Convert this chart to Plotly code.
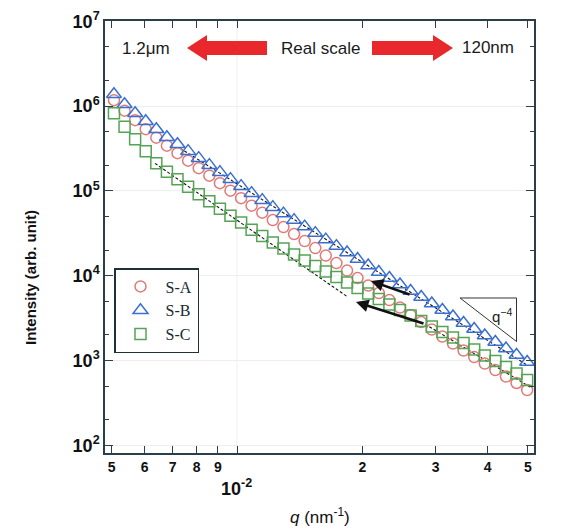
import plotly.graph_objects as go

# ---------------- data ----------------
q = [0.005063, 0.005369, 0.005692, 0.006036, 0.006400, 0.006786, 0.007195, 0.007630,
     0.008091, 0.008580, 0.009097, 0.009645, 0.01023, 0.01084, 0.01150, 0.01219,
     0.01293, 0.01371, 0.01454, 0.01542, 0.01634, 0.01733, 0.01838, 0.01948,
     0.02066, 0.02191, 0.02323, 0.02463, 0.02612, 0.02770, 0.02937, 0.03114,
     0.03302, 0.03501, 0.03713, 0.03937, 0.04174, 0.04427, 0.04693, 0.04977]

s_a = [1.173e6, 8.816e5, 6.813e5, 5.337e5, 4.238e5, 3.411e5, 2.783e5, 2.271e5,
       1.852e5, 1.511e5, 1.233e5, 1.006e5, 8.210e4, 6.696e4, 5.538e4, 4.519e4,
       3.737e4, 3.090e4, 2.556e4, 2.114e4, 1.725e4, 1.407e4, 1.148e4, 9.366e3,
       7.641e3, 6.232e3, 5.155e3, 4.207e3, 3.431e3, 2.838e3, 2.315e3, 1.915e3,
       1.583e3, 1.310e3, 1.098e3, 920.3, 771.6, 646.8, 542.4, 448.4]

s_b = [1.380e6, 1.052e6, 8.238e5, 6.630e5, 5.337e5, 4.296e5, 3.553e5, 2.939e5,
       2.430e5, 2.010e5, 1.662e5, 1.375e5, 1.137e5, 9.400e4, 7.777e4, 6.430e4,
       5.391e4, 4.519e4, 3.788e4, 3.175e4, 2.662e4, 2.231e4, 1.871e4, 1.568e4,
       1.315e4, 1.102e4, 9.366e3, 7.852e3, 6.580e3, 5.593e3, 4.688e3, 3.930e3,
       3.294e3, 2.762e3, 2.347e3, 1.967e3, 1.649e3, 1.382e3, 1.159e3, 958.5]

s_c = [8.238e5, 5.712e5, 4.069e5, 2.939e5, 2.122e5, 1.685e5, 1.375e5, 1.121e5,
       9.150e4, 7.568e4, 6.173e4, 5.105e4, 4.222e4, 3.491e4, 2.927e4, 2.454e4,
       2.085e4, 1.772e4, 1.506e4, 1.297e4, 1.117e4, 9.623e3, 8.289e3, 7.140e3,
       6.149e3, 5.297e3, 4.562e3, 3.930e3, 3.385e3, 2.916e3, 2.512e3, 2.163e3,
       1.864e3, 1.605e3, 1.346e3, 1.144e3, 984.9, 836.9, 701.8, 588.3]

# guide (fit) lines, endpoints in data units
fit_c_q = [0.006353, 0.01848]
fit_c_i = [2.11e5, 5.58e3]
fit_b_q = [0.0073, 0.04972]
fit_b_i = [3.18e5, 885]
fit_hi_q = [0.02829, 0.0506]
fit_hi_i = [2684, 486]

x_tickvals = [0.005, 0.006, 0.007, 0.008, 0.009, 0.01, 0.02, 0.03, 0.04, 0.05]
x_ticktext = ["5", "6", "7", "8", "9", "", "2", "3", "4", "5"]
y_tickvals = [1e2, 1e3, 1e4, 1e5, 1e6, 1e7]
y_ticktext = ["10<sup>2</sup>", "10<sup>3</sup>", "10<sup>4</sup>",
              "10<sup>5</sup>", "10<sup>6</sup>", "10<sup>7</sup>"]

# ---------------- layout helpers ----------------
# page offset of the figure (default body margin of the HTML page)
OFF = 8
W, H = 574 - OFF, 529 - OFF
# plot area in page pixels
L, R, T, B = 105, 534, 21, 453


def px(x):
    return (x - L) / (R - L)


def py(y):
    return (B - y) / (B - T)


AX = "#2b3f4a"
RED = "#e8282c"

fig = go.Figure()

dash_style = dict(color="#111111", width=1.1, dash="3px,2px")
fig.add_trace(go.Scatter(x=fit_c_q, y=fit_c_i, mode="lines", line=dash_style,
                         showlegend=False, hoverinfo="skip"))
fig.add_trace(go.Scatter(x=fit_b_q, y=fit_b_i, mode="lines", line=dash_style,
                         showlegend=False, hoverinfo="skip"))
fig.add_trace(go.Scatter(x=fit_hi_q, y=fit_hi_i, mode="lines", line=dash_style,
                         showlegend=False, hoverinfo="skip"))

fig.add_trace(go.Scatter(x=q, y=s_a, mode="markers", name="S-A",
                         marker=dict(symbol="circle-open", size=11, color="#e07a78",
                                     line=dict(width=1.5))))
fig.add_trace(go.Scatter(x=q, y=s_b, mode="markers", name="S-B",
                         marker=dict(symbol="triangle-up-open", size=13, color="#3a6fd2",
                                     line=dict(width=1.5))))
fig.add_trace(go.Scatter(x=q, y=s_c, mode="markers", name="S-C",
                         marker=dict(symbol="square-open", size=11, color="#55a455",
                                     line=dict(width=1.5))))

shapes = []
# vertical faint grid line at 10^-2
shapes.append(dict(type="line", xref="paper", yref="paper",
                   x0=px(237), x1=px(237), y0=0, y1=1,
                   line=dict(color="#eeeeee", width=1), layer="below"))
# red double arrow ("Real scale")
yc = 48
bh, hh = 7, 13


def arrow_path(tip, tail):
    d = 1 if tail > tip else -1
    hb = tip + 20 * d
    pts = [(tip, yc), (hb, yc - hh), (hb, yc - bh), (tail, yc - bh),
           (tail, yc + bh), (hb, yc + bh), (hb, yc + hh)]
    return "M " + " L ".join(f"{px(a):.5f},{py(b):.5f}" for a, b in pts) + " Z"


shapes.append(dict(type="path", xref="paper", yref="paper", path=arrow_path(187, 267),
                   fillcolor=RED, line=dict(width=0)))
shapes.append(dict(type="path", xref="paper", yref="paper", path=arrow_path(453, 372),
                   fillcolor=RED, line=dict(width=0)))
# q^-4 slope triangle
tri = [(460, 298), (516.5, 298), (516.5, 341.5)]
shapes.append(dict(type="path", xref="paper", yref="paper",
                   path="M " + " L ".join(f"{px(a):.5f},{py(b):.5f}" for a, b in tri) + " Z",
                   line=dict(color="#333333", width=1), fillcolor="rgba(0,0,0,0)"))

ann = []


def label(x, y, text, font, **kw):
    d = dict(x=px(x), y=py(y), xref="paper", yref="paper", text=text,
             showarrow=False, font=font, xanchor="center", yanchor="middle")
    d.update(kw)
    ann.append(d)


txt_font = dict(family="Liberation Sans, Arial", size=17, color="#1a1a1a")
label(146, 48, "1.2μm", txt_font)
label(320, 48, "Real scale", txt_font)
label(488, 47, "120nm", txt_font)
label(502, 315, "q<sup>−4</sup>",
      dict(family="Liberation Sans, Arial", size=15, color="#1a1a1a"))
# x-axis decade label
label(236, 487, "10<sup>-2</sup>",
      dict(family="Liberation Sans, Arial", size=18, color="#111111", weight="bold"))
# axis titles
label(320, 516, "<i>q</i> (nm<sup>-1</sup>)",
      dict(family="Liberation Sans, Arial", size=17, color="#111111"))
label(30, 278, "Intensity (arb. unit)",
      dict(family="Liberation Sans, Arial", size=15, color="#111111", weight="bold"),
      textangle=-90)

# black arrows
ann.append(dict(x=px(371), y=py(281), xref="paper", yref="paper", ax=40, ay=14,
                showarrow=True, arrowhead=2, arrowsize=1, arrowwidth=2.5,
                arrowcolor="#111111", text=""))
ann.append(dict(x=px(356), y=py(302), xref="paper", yref="paper", ax=69, ay=22,
                showarrow=True, arrowhead=2, arrowsize=1, arrowwidth=2.5,
                arrowcolor="#111111", text=""))

fig.update_layout(
    width=W, height=H,
    margin=dict(l=L - OFF, r=(574 - R), t=T - OFF, b=(529 - B), pad=0,
                autoexpand=False),
    paper_bgcolor="white", plot_bgcolor="white",
    shapes=shapes, annotations=ann,
    legend=dict(x=px(114), y=py(268), xanchor="left", yanchor="top",
                bgcolor="white", bordercolor="#1f3038", borderwidth=1.5,
                font=dict(family="Liberation Serif, Times New Roman", size=16,
                          color="#1a2a30"),
                itemwidth=40, tracegroupgap=0),
)

fig.update_xaxes(type="log", range=[-2.3171, -1.2866], automargin=False,
                 tickvals=x_tickvals, ticktext=x_ticktext,
                 ticks="inside", ticklen=7, tickwidth=1.3, tickcolor=AX,
                 showline=True, linecolor=AX, linewidth=1.5, mirror="ticks",
                 showgrid=False, zeroline=False,
                 tickfont=dict(family="Liberation Sans, Arial", size=14,
                               color="#111111", weight="bold"))
fig.update_yaxes(type="log", range=[1.909, 7.003], automargin=False,
                 tickvals=y_tickvals, ticktext=y_ticktext,
                 ticks="inside", ticklen=8, tickwidth=1.3, tickcolor=AX,
                 minor=dict(ticks="inside", ticklen=4, tickcolor=AX, tickwidth=1,
                            showgrid=False),
                 showline=True, linecolor=AX, linewidth=1.5, mirror="ticks",
                 showgrid=True, gridcolor="#eeeeee", gridwidth=1,
                 zeroline=False,
                 tickfont=dict(family="Liberation Sans, Arial", size=18,
                               color="#111111", weight="bold"))

fig.write_html("out.html")
